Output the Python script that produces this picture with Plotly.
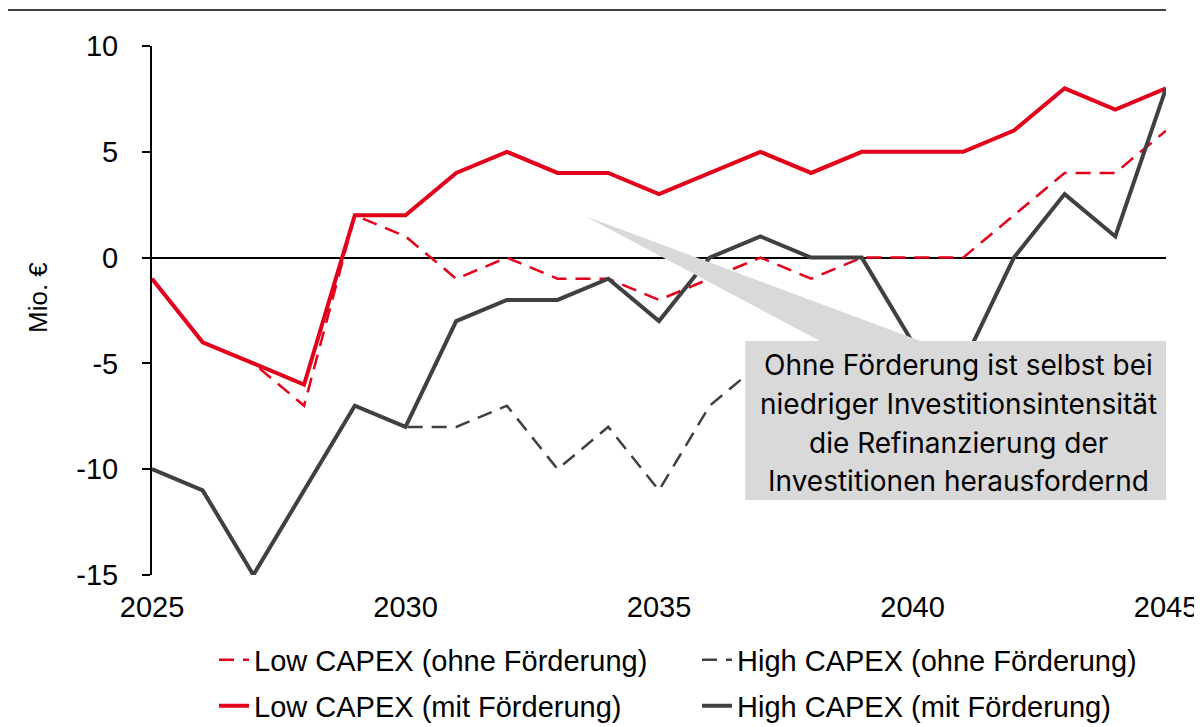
import plotly.graph_objects as go

years = list(range(2025, 2046))
low_ohne = [-1, -4, -5, -7, 2, 1, -1, 0, -1, -1, -2, -1, 0, -1, 0, 0, 0, 2, 4, 4, 6]
low_mit = [-1, -4, -5, -6, 2, 2, 4, 5, 4, 4, 3, 4, 5, 4, 5, 5, 5, 6, 8, 7, 8]
high_ohne = [-10, -11, -15, -11, -7, -8, -8, -7, -10, -8, -11, -7, -5, -5, -6, -6, -7, -6, -5, -6, -5]
high_mit = [-10, -11, -15, -11, -7, -8, -3, -2, -2, -1, -3, 0, 1, 0, 0, -4, -5, 0, 3, 1, 8]

x_ticks = [2025, 2030, 2035, 2040, 2045]
y_ticks = [-15, -10, -5, 0, 5, 10]
y_labels = ["-15", "-10", "-5", "0", "5", "10"]

RED = "#E2001A"
GREY = "#404040"
FONT = "Liberation Sans, Arial, sans-serif"
CALLOUT_FONT = "Inter, Open Sans, sans-serif"
callout_lines = [
    "Ohne Förderung ist selbst bei",
    "niedriger Investitionsintensität",
    "die Refinanzierung der",
    "Investitionen herausfordernd",
]

# the page body shifts the figure by 8px, so it is drawn 8px smaller than the window
PAD = 8
W, H = 1202 - PAD, 727 - PAD

fig = go.Figure()
fig.add_trace(go.Scatter(x=years, y=high_ohne, mode="lines", name="High CAPEX (ohne Förderung)",
                         line=dict(color=GREY, width=2.5, dash="15px,9px"), legend="legend2"))
fig.add_trace(go.Scatter(x=years, y=low_ohne, mode="lines", name="Low CAPEX (ohne Förderung)",
                         line=dict(color=RED, width=2.5, dash="15px,9px"), legend="legend"))
fig.add_trace(go.Scatter(x=years, y=low_mit, mode="lines", name="Low CAPEX (mit Förderung)",
                         line=dict(color=RED, width=4), legend="legend3"))
fig.add_trace(go.Scatter(x=years, y=high_mit, mode="lines", name="High CAPEX (mit Förderung)",
                         line=dict(color=GREY, width=4), legend="legend4"))


def legend_at(text_x, y):
    return dict(orientation="h", xref="container", yref="container", x=(text_x - 48 - PAD) / W,
                y=1 - (y - PAD) / H, xanchor="left", yanchor="middle",
                font=dict(family=FONT, size=29, color="#000000"), bgcolor="rgba(0,0,0,0)")


fig.update_layout(
    width=W, height=H,
    paper_bgcolor="white", plot_bgcolor="white",
    margin=dict(l=152 - PAD, r=W + PAD - 1166, t=46 - PAD, b=H + PAD - 575),
    font=dict(family=FONT, size=29, color="#000000"),
    xaxis=dict(range=[2025, 2045], tickvals=x_ticks, showgrid=False, automargin=False,
               zeroline=False, showline=False, ticks="", ticklabelstandoff=12,
               ticklabeloverflow="allow",
               tickfont=dict(family=FONT, size=29, color="#000000")),
    yaxis=dict(range=[-15, 10], tickvals=y_ticks, ticktext=y_labels, showgrid=False,
               automargin=False,
               zeroline=True, zerolinecolor="#000000", zerolinewidth=2,
               showline=True, linecolor="#000000", linewidth=2,
               ticks="outside", ticklen=8, tickwidth=2, tickcolor="#000000", ticklabelstandoff=18,
               tickfont=dict(family=FONT, size=29, color="#000000")),
    legend=legend_at(262, 660),
    legend2=legend_at(745, 660),
    legend3=legend_at(262, 706),
    legend4=legend_at(745, 706),
    showlegend=True,
)

fig.add_annotation(text="Mio. €", xref="paper", yref="paper", x=-114 / 1014, y=(575 - 298) / 529,
                   showarrow=False, textangle=-90, xanchor="center", yanchor="middle",
                   font=dict(family=FONT, size=26, color="#000000"))

# callout wedge and box drawn above the lines
fig.add_shape(type="path", xref="x", yref="y", layer="above",
              path="M 2033.54 1.97 L 2038.2 -3.98 L 2040.2 -3.98 Z",
              fillcolor="#D9D9D9", line=dict(width=0))
fig.add_shape(type="rect", xref="x", yref="y", layer="above",
              x0=2036.7, x1=2045.1, y0=-3.94, y1=-11.46,
              fillcolor="#D9D9D9", line=dict(width=0))
for i, txt in enumerate(callout_lines):
    fig.add_annotation(x=2040.9, y=-5.08 - i * 1.83, xref="x", yref="y", text=txt, showarrow=False,
                       font=dict(family=CALLOUT_FONT, size=28, color="#000000"),
                       xanchor="center", yanchor="middle")

# thin rule at the top of the page (as high as the figure allows)
fig.add_shape(type="line", xref="paper", yref="paper", x0=-0.15, x1=1.0,
              y0=1 + 36 / 529, y1=1 + 36 / 529, line=dict(color=GREY, width=2))

fig.write_html("out.html")
